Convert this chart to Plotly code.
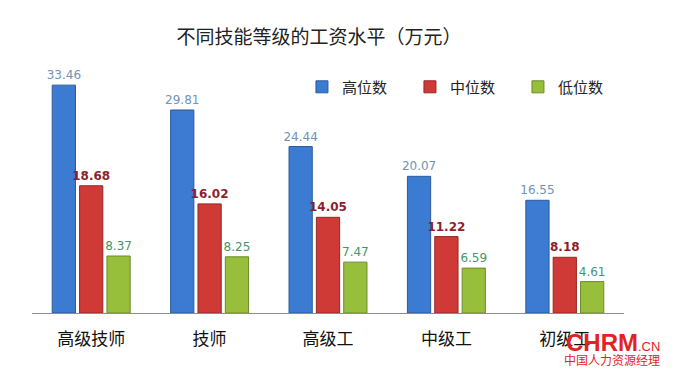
import plotly.graph_objects as go

categories = ["高级技师", "技师", "高级工", "中级工", "初级工"]
series_names = ["高位数", "中位数", "低位数"]
high = [33.46, 29.81, 24.44, 20.07, 16.55]
mid = [18.68, 16.02, 14.05, 11.22, 8.18]
low = [8.37, 8.25, 7.47, 6.59, 4.61]

bar_colors = ["#3c7bd2", "#d03a36", "#97bf3c"]
line_colors = ["#2b5a9c", "#962624", "#6c8a2a"]
label_colors = ["#7093b8", "#8e1f2c", "#47946c"]
label_bold = [False, True, False]

fig = go.Figure()
for name, vals, c, lc, tc, b in zip(series_names, [high, mid, low], bar_colors, line_colors, label_colors, label_bold):
    fig.add_trace(go.Bar(
        x=categories, y=vals, name=name,
        marker=dict(color=c, line=dict(color=lc, width=1)),
        text=[(f"<b>{v:.2f}</b>" if b else f"{v:.2f}") for v in vals], textposition="outside",
        textfont=dict(color=tc, size=12, family="DejaVu Sans"),
        constraintext="none",
        cliponaxis=False,
    ))

# The page adds an 8px body margin, so the figure is 8px smaller each way.
fig.update_layout(
    width=666, height=371,
    margin=dict(l=24, r=50, t=52, b=66, autoexpand=False),
    paper_bgcolor="white", plot_bgcolor="white",
    barmode="group", bargap=0.307, bargroupgap=0.15,
    title=dict(text="不同技能等级的工资水平（万元）", x=0.467, xanchor="center", y=0.922, yanchor="middle",
               font=dict(size=19, color="#222222", family="Noto Sans CJK SC")),
    legend=dict(orientation="h", x=0.456, y=0.893, xanchor="left", yanchor="middle",
                font=dict(size=15, color="#222222", family="Noto Sans CJK SC"),
                itemwidth=30, entrywidth=63, bgcolor="rgba(0,0,0,0)", traceorder="normal"),
    font=dict(family="Noto Sans CJK SC"),
    showlegend=True,
)
fig.update_xaxes(showline=True, linecolor="#8c8c8c", linewidth=1, ticks="", showgrid=False, automargin=False,
                 ticklabelstandoff=11,
                 tickfont=dict(size=17, color="#111111", family="Noto Sans CJK SC"))
fig.update_yaxes(range=[0, 37.15], visible=False, showgrid=False, automargin=False)

fig.add_annotation(text="<b>CHRM</b><span style='font-size:13px'>.CN</span>", xref="paper", yref="paper",
                   x=1.064, y=-0.115, xanchor="right", yanchor="middle", showarrow=False,
                   font=dict(size=24, color="#e2231f", family="Liberation Sans"))
fig.add_annotation(text="中国人力资源经理", xref="paper", yref="paper",
                   x=1.064, y=-0.182, xanchor="right", yanchor="middle", showarrow=False,
                   font=dict(size=12, color="#e2231f", family="Noto Sans CJK SC"))

fig.write_html("out.html")
